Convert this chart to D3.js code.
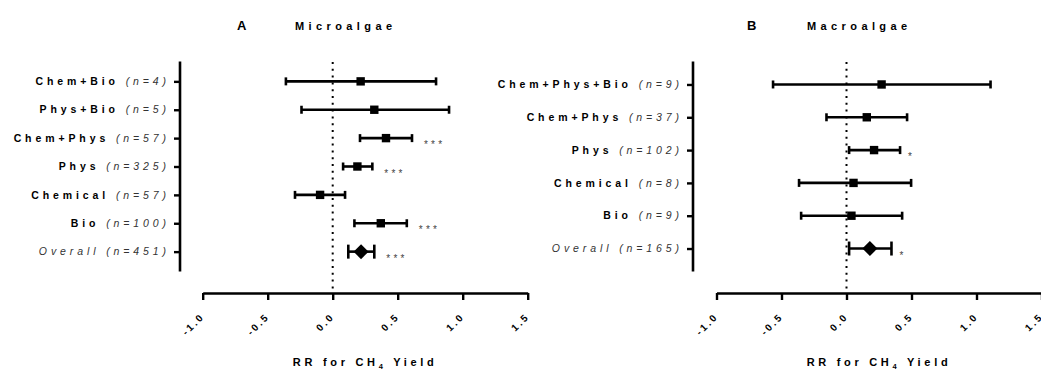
<!DOCTYPE html>
<html>
<head>
<meta charset="utf-8">
<script src="https://cdn.jsdelivr.net/npm/d3@7"></script>
<style>
  html, body { margin: 0; padding: 0; background: #fff; }
  svg { display: block; }
  text { font-family: "Liberation Sans", Arial, Helvetica, sans-serif; }
</style>
</head>
<body>
<svg id="chart" width="1041" height="371"></svg>
<script>
// ---- Microalgae (panel A) ----
const microGroups  = ["Chem+Bio", "Phys+Bio", "Chem+Phys", "Phys", "Chemical", "Bio", "Overall"];
const microN       = [4, 5, 57, 325, 57, 100, 451];
const microRR      = [0.215, 0.32, 0.41, 0.19, -0.097, 0.37, 0.218];
const microLower   = [-0.36, -0.24, 0.21, 0.08, -0.29, 0.167, 0.12];
const microUpper   = [0.795, 0.895, 0.61, 0.305, 0.095, 0.57, 0.32];
const microSig     = ["", "", "***", "***", "", "***", "***"];

// ---- Macroalgae (panel B) ----
const macroGroups  = ["Chem+Phys+Bio", "Chem+Phys", "Phys", "Chemical", "Bio", "Overall"];
const macroN       = [9, 37, 102, 8, 9, 165];
const macroRR      = [0.27, 0.156, 0.212, 0.054, 0.038, 0.18];
const macroLower   = [-0.565, -0.154, 0.02, -0.365, -0.349, 0.02];
const macroUpper   = [1.108, 0.466, 0.412, 0.497, 0.428, 0.346];
const macroSig     = ["", "", "*", "", "", "*"];

const xTicks = [-1.0, -0.5, 0.0, 0.5, 1.0, 1.5];

const svg = d3.select("#chart");

function rows(groups, n, rr, lo, hi, sig) {
  return groups.map((g, i) => ({ group: g, n: n[i], rr: rr[i], lo: lo[i], hi: hi[i], sig: sig[i],
                                 overall: g === "Overall" }));
}

function panel(opts) {
  const data = rows(...opts.series);
  const g = svg.append("g");

  const x = d3.scaleLinear().domain([-1, 1.5]).range([opts.xStart, opts.xStart + 325]);
  const y = d3.scalePoint().domain(data.map(d => d.group)).range([61.5, 271.5]).padding(0.7);
  const axisY = 293;

  // panel letter and title
  g.append("text").attr("x", opts.letterX).attr("y", 30)
    .attr("font-size", 13).attr("font-weight", "bold").text(opts.letter);
  g.append("text").attr("x", opts.titleX).attr("y", 30)
    .attr("font-size", 11).attr("font-weight", "bold").attr("letter-spacing", 4.4)
    .text(opts.title);

  // zero reference line
  g.append("line")
    .attr("x1", x(0)).attr("x2", x(0)).attr("y1", 62).attr("y2", axisY)
    .attr("stroke", "#000").attr("stroke-width", 2)
    .attr("stroke-dasharray", "2 4.8");

  // y axis (categories)
  const yAxis = g.append("g").attr("transform", `translate(${opts.yAxisX},0)`)
    .call(d3.axisLeft(y).tickSize(6).tickFormat(""));
  yAxis.select(".domain").attr("d", `M0,61.5V271.5`).attr("stroke-width", 2.6);
  yAxis.selectAll(".tick line").attr("stroke-width", 2.4);

  // category labels: bold name + italic sample size
  const lab = g.append("g").selectAll("text").data(data).join("text")
    .attr("x", opts.yAxisX - 10).attr("y", d => y(d.group)).attr("dy", "0.35em")
    .attr("text-anchor", "end").attr("font-size", 10.5).attr("letter-spacing", 3.9);
  lab.append("tspan")
    .attr("font-weight", d => d.overall ? "normal" : "bold")
    .attr("font-style", d => d.overall ? "italic" : "normal")
    .attr("fill", d => d.overall ? "#333" : "#000")
    .text(d => d.overall ? d.group + " " : d.group + "  ");
  lab.append("tspan")
    .attr("font-style", "italic").attr("fill", "#333")
    .text(d => `(n=${d.n})`);

  // x axis
  const xAxis = g.append("g").attr("transform", `translate(0,${axisY})`)
    .call(d3.axisBottom(x).tickValues(xTicks).tickSize(7).tickSizeOuter(0)
      .tickFormat(d => d.toFixed(1)));
  xAxis.select(".domain").attr("stroke-width", 2.6);
  xAxis.selectAll(".tick line").attr("stroke-width", 2.4);
  xAxis.selectAll(".tick text")
    .attr("font-size", 10).attr("font-weight", "bold").attr("letter-spacing", 2.4)
    .attr("fill", "#000").attr("text-anchor", "end")
    .attr("dy", null).attr("y", null)
    .attr("transform", "translate(2,24) rotate(-45)");

  // axis title with subscript
  const xt = g.append("text").attr("x", x(0.25)).attr("y", 366)
    .attr("text-anchor", "middle").attr("font-size", 11).attr("font-weight", "bold")
    .attr("letter-spacing", 3.7);
  xt.append("tspan").text("RR for CH");
  xt.append("tspan").attr("font-size", 7.5).attr("dy", 3).text("4");
  xt.append("tspan").attr("dy", -3).text(" Yield");

  // confidence intervals
  const ci = g.append("g").selectAll("g").data(data).join("g");
  ci.append("line")
    .attr("x1", d => x(d.lo)).attr("x2", d => x(d.hi))
    .attr("y1", d => y(d.group)).attr("y2", d => y(d.group))
    .attr("stroke", "#000").attr("stroke-width", 2.6);
  ci.selectAll("line.cap").data(d => [[d, d.lo], [d, d.hi]]).join("line")
    .attr("class", "cap")
    .attr("x1", ([, v]) => x(v)).attr("x2", ([, v]) => x(v))
    .attr("y1", ([d]) => y(d.group) - (d.overall ? 7 : 4))
    .attr("y2", ([d]) => y(d.group) + (d.overall ? 7 : 4))
    .attr("stroke", "#000").attr("stroke-width", 2.6);

  // point estimates: squares for subgroups, diamond for overall
  ci.append("path")
    .attr("transform", d => `translate(${x(d.rr)},${y(d.group)})`)
    .attr("d", d => d.overall
      ? "M0,-7.5L7.5,0L0,7.5L-7.5,0Z"
      : "M-4.2,-4.2H4.2V4.2H-4.2Z")
    .attr("fill", "#000");

  // significance markers
  ci.filter(d => d.sig).append("text")
    .attr("x", d => x(d.hi) + opts.sigGap).attr("y", d => y(d.group) + 10)
    .attr("font-size", 10).attr("letter-spacing", 3.2).attr("fill", "#444")
    .text(d => d.sig);
}

panel({
  series: [microGroups, microN, microRR, microLower, microUpper, microSig],
  letter: "A", letterX: 237, title: "Microalgae", titleX: 295,
  yAxisX: 180, xStart: 202.7, sigGap: 12
});
panel({
  series: [macroGroups, macroN, macroRR, macroLower, macroUpper, macroSig],
  letter: "B", letterX: 747, title: "Macroalgae", titleX: 807,
  yAxisX: 693, xStart: 716.5, sigGap: 8
});
</script>
</body>
</html>
